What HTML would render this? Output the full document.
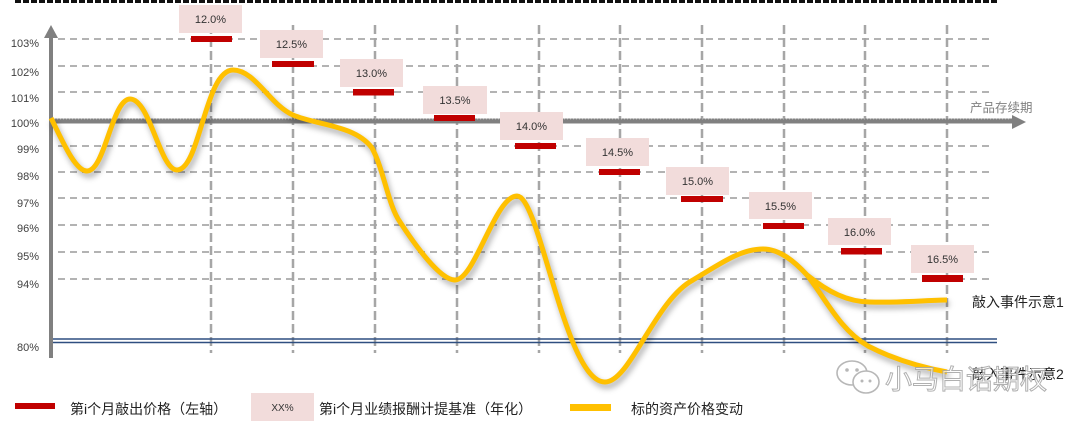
<!DOCTYPE html>
<html><head><meta charset="utf-8"><style>
html,body{margin:0;padding:0;background:#fff;}
svg{display:block;}
text{font-family:"Liberation Sans","Noto Sans CJK SC",sans-serif;}
</style></head><body>
<svg width="1080" height="428" viewBox="0 0 1080 428" xmlns="http://www.w3.org/2000/svg">
<defs>
<filter id="sh" x="-10%" y="-20%" width="120%" height="140%">
<feGaussianBlur stdDeviation="3"/>
</filter>
</defs>
<rect width="1080" height="428" fill="#fff"/>
<!-- top dashed line -->
<line x1="15" y1="1.5" x2="997" y2="1.5" stroke="#111" stroke-width="3" stroke-dasharray="6 2"/>

<!-- horizontal grid -->
<g stroke="#b3b3b3" stroke-width="2" stroke-dasharray="7 5">
<line x1="58" y1="39" x2="994" y2="39"/>
<line x1="58" y1="66" x2="994" y2="66"/>
<line x1="58" y1="92" x2="994" y2="92"/>
<line x1="58" y1="146" x2="994" y2="146"/>
<line x1="58" y1="172" x2="994" y2="172"/>
<line x1="58" y1="198" x2="994" y2="198"/>
<line x1="58" y1="225" x2="994" y2="225"/>
<line x1="58" y1="252" x2="994" y2="252"/>
<line x1="58" y1="279" x2="994" y2="279"/>
</g>
<!-- vertical grid -->
<g stroke="#a6a6a6" stroke-width="2.5" stroke-dasharray="9 4">
<line x1="211" y1="25" x2="211" y2="353"/>
<line x1="293" y1="25" x2="293" y2="353"/>
<line x1="375" y1="25" x2="375" y2="353"/>
<line x1="457" y1="25" x2="457" y2="353"/>
<line x1="539" y1="25" x2="539" y2="353"/>
<line x1="620" y1="25" x2="620" y2="353"/>
<line x1="702" y1="25" x2="702" y2="353"/>
<line x1="784" y1="25" x2="784" y2="353"/>
<line x1="865" y1="25" x2="865" y2="353"/>
<line x1="947" y1="25" x2="947" y2="353"/>
</g>

<!-- blue double line -->
<line x1="51" y1="339" x2="997" y2="339" stroke="#2f4f80" stroke-width="1.6"/>
<line x1="51" y1="342.5" x2="997" y2="342.5" stroke="#2f4f80" stroke-width="1.6"/>

<!-- axes -->
<line x1="51" y1="36" x2="51" y2="358" stroke="#808080" stroke-width="4"/>
<polygon points="51,25 44,38 58,38" fill="#808080"/>
<line x1="51" y1="121" x2="1014" y2="121" stroke="#808080" stroke-width="5"/>
<line x1="51" y1="119" x2="1010" y2="119" stroke="#c8c8c8" stroke-width="0.8" stroke-dasharray="1 2"/>
<polygon points="1026,122 1012,115 1012,129" fill="#808080"/>
<text x="970" y="112" font-size="12.5" fill="#808080">产品存续期</text>

<!-- y labels -->
<g font-size="11" fill="#404040" text-anchor="end">
<text x="39" y="47">103%</text>
<text x="39" y="76">102%</text>
<text x="39" y="102">101%</text>
<text x="39" y="127">100%</text>
<text x="39" y="153">99%</text>
<text x="39" y="180">98%</text>
<text x="39" y="207">97%</text>
<text x="39" y="232">96%</text>
<text x="39" y="260">95%</text>
<text x="39" y="288">94%</text>
<text x="39" y="351">80%</text>
</g>

<!-- pink boxes -->
<g fill="#f2dcdb">
<rect x="179" y="5" width="63" height="28"/>
<rect x="260" y="30" width="63" height="28"/>
<rect x="340" y="59" width="63" height="28"/>
<rect x="423" y="86" width="64" height="28"/>
<rect x="500" y="112" width="63" height="28"/>
<rect x="586" y="138" width="63" height="28"/>
<rect x="666" y="167" width="63" height="28"/>
<rect x="749" y="192" width="63" height="27"/>
<rect x="828" y="218" width="63" height="27"/>
<rect x="911" y="245" width="63" height="28"/>
</g>
<g font-size="11" fill="#333" text-anchor="middle">
<text x="210.5" y="23">12.0%</text>
<text x="291.5" y="48">12.5%</text>
<text x="371.5" y="77">13.0%</text>
<text x="455" y="104">13.5%</text>
<text x="531.5" y="130">14.0%</text>
<text x="617.5" y="156">14.5%</text>
<text x="697.5" y="185">15.0%</text>
<text x="780.5" y="210">15.5%</text>
<text x="859.5" y="236">16.0%</text>
<text x="942.5" y="263">16.5%</text>
</g>
<!-- red bars -->
<g fill="#c00000">
<rect x="191" y="36" width="41" height="6"/>
<rect x="272" y="61" width="42" height="6"/>
<rect x="353" y="89" width="41" height="6.5"/>
<rect x="434" y="115" width="41" height="6"/>
<rect x="515" y="143" width="41" height="6"/>
<rect x="599" y="169" width="41" height="6"/>
<rect x="681" y="196" width="42" height="6"/>
<rect x="763" y="223" width="41" height="6"/>
<rect x="841" y="248" width="41" height="6.5"/>
<rect x="922" y="275" width="41" height="7"/>
</g>

<!-- curve shadow -->
<g fill="none" stroke="#000" stroke-opacity="0.28" stroke-width="6" filter="url(#sh)" transform="translate(2,4)">
<path d="M51,118 C62,140 75,171 87,171 C105,171 112,99 130,99 C150,99 160,170 177,170 C200,170 205,70 233,70 C255,70 270,105 293,115 C316,125 355,125 372,148 C384,170 388,205 400,222 C415,245 440,280 455,280 C475,280 495,196 517,196 C540,196 565,382 605,382 C630,382 655,300 693,280 C720,264 740,249 763,249 C780,249 795,262 807,275 C828,292 848,302 870,302 C900,303 930,300 947,300"/>
<path d="M807,275 C825,298 840,330 868,346 C895,360 925,368 947,372"/>
</g>
<!-- curve -->
<g fill="none" stroke="#ffc000" stroke-width="5" stroke-linecap="butt">
<path d="M51,118 C62,140 75,171 87,171 C105,171 112,99 130,99 C150,99 160,170 177,170 C200,170 205,70 233,70 C255,70 270,105 293,115 C316,125 355,125 372,148 C384,170 388,205 400,222 C415,245 440,280 455,280 C475,280 495,196 517,196 C540,196 565,382 605,382 C630,382 655,300 693,280 C720,264 740,249 763,249 C780,249 795,262 807,275 C828,292 848,302 870,302 C900,303 930,300 947,300"/>
<path d="M807,275 C825,298 840,330 868,346 C895,360 925,368 947,372"/>
</g>

<!-- event labels -->
<text x="972" y="307" font-size="14" fill="#222">敲入事件示意1</text>
<text x="972" y="379" font-size="14" fill="#222">敲入事件示意2</text>

<!-- watermark -->
<g opacity="0.9">
<ellipse cx="852" cy="373" rx="15" ry="12" fill="#fff" stroke="#b0b0b0" stroke-width="1.6"/>
<ellipse cx="866" cy="382" rx="13" ry="11" fill="#fff" stroke="#b0b0b0" stroke-width="1.6"/>
<circle cx="847" cy="370" r="1.8" fill="#b0b0b0"/>
<circle cx="857" cy="370" r="1.8" fill="#b0b0b0"/>
<circle cx="862" cy="381" r="1.5" fill="#b0b0b0"/>
<circle cx="870" cy="381" r="1.5" fill="#b0b0b0"/>
<text x="885" y="389" font-size="27" fill="#fff" fill-opacity="0.75" stroke="#a8a8a8" stroke-width="1">小马白话期权</text>
</g>

<!-- legend -->
<rect x="15" y="403" width="40" height="6" fill="#c00000"/>
<text x="70" y="414" font-size="14" fill="#222">第i个月敲出价格（左轴）</text>
<rect x="251" y="393" width="63" height="28" fill="#f2dcdb"/>
<text x="282.5" y="411" font-size="10" fill="#333" text-anchor="middle">XX%</text>
<text x="319" y="414" font-size="14" fill="#222">第i个月业绩报酬计提基准（年化）</text>
<rect x="570" y="404" width="41" height="7" fill="#ffc000"/>
<text x="631" y="414" font-size="14" fill="#222">标的资产价格变动</text>
</svg>
</body></html>
